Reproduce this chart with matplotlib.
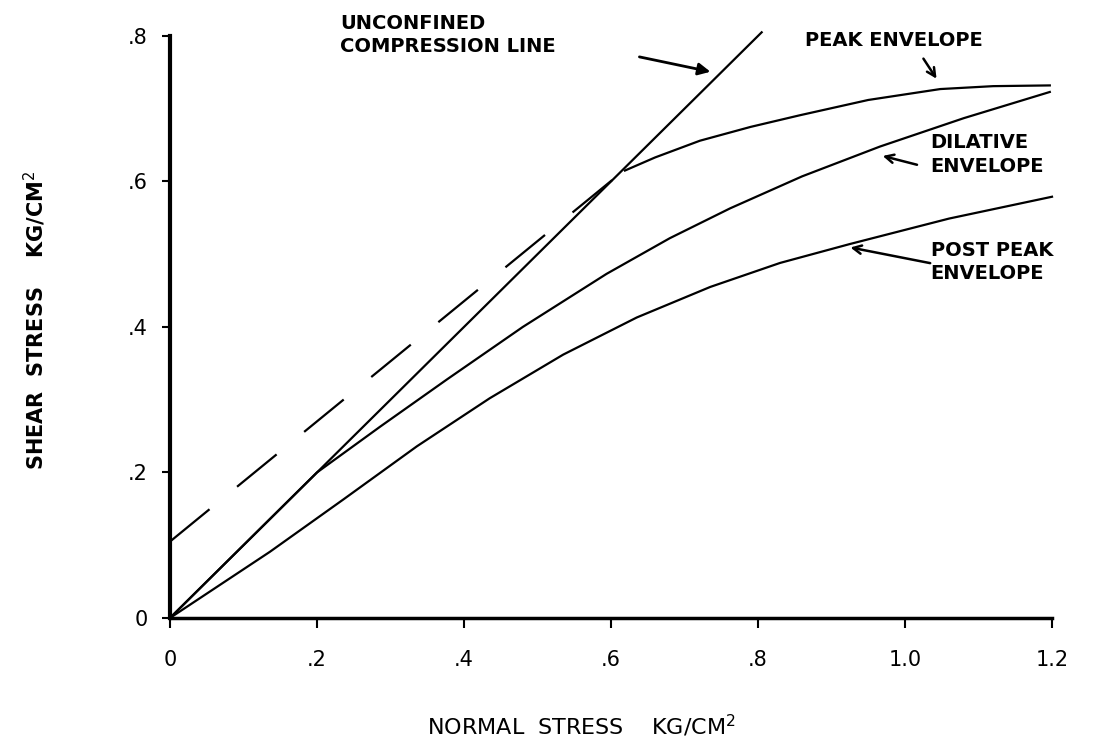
import matplotlib
matplotlib.use('Agg')
import matplotlib.pyplot as plt

# values (kg/cm^2)
unconf_x = [0.0, 0.805]
unconf_y = [0.0, 0.805]

dashed_x = [0.0, 0.615]
dashed_y = [0.105, 0.613]

peak_x = [0.619, 0.66, 0.721, 0.79, 0.857, 0.95, 1.048, 1.12, 1.197]
peak_y = [0.615, 0.633, 0.656, 0.675, 0.691, 0.712, 0.727, 0.731, 0.732]

dil_x = [0.0, 0.2, 0.286, 0.377, 0.48, 0.594, 0.68, 0.762, 0.86, 0.966, 1.08, 1.197]
dil_y = [0.0, 0.2, 0.263, 0.328, 0.40, 0.473, 0.522, 0.563, 0.607, 0.648, 0.687, 0.723]

post_x = [0.0, 0.136, 0.236, 0.336, 0.435, 0.535, 0.635, 0.735, 0.83, 0.925, 1.06, 1.2]
post_y = [0.0, 0.091, 0.163, 0.236, 0.302, 0.362, 0.413, 0.455, 0.488, 0.514, 0.549, 0.579]

xticks = [0, 0.2, 0.4, 0.6, 0.8, 1.0, 1.2]
xticklabels = ['0', '.2', '.4', '.6', '.8', '1.0', '1.2']
yticks = [0, 0.2, 0.4, 0.6, 0.8]
yticklabels = ['0', '.2', '.4', '.6', '.8']

plt.rcParams['font.family'] = ['DejaVu Sans']

fig = plt.figure(figsize=(11.13, 7.52), dpi=100)
ax = fig.add_axes([0.1527, 0.1782, 0.7925, 0.774])

lw = 1.6
ax.plot(unconf_x, unconf_y, color='black', lw=lw, clip_on=False)
ax.plot(dashed_x, dashed_y, color='black', lw=lw, dashes=(23, 16), clip_on=False)
ax.plot(peak_x, peak_y, color='black', lw=lw, clip_on=False)
ax.plot(dil_x, dil_y, color='black', lw=lw, clip_on=False)
ax.plot(post_x, post_y, color='black', lw=lw, clip_on=False)

ax.set_xlim(0, 1.2)
ax.set_ylim(0, 0.8)
ax.spines['top'].set_visible(False)
ax.spines['right'].set_visible(False)
ax.spines['left'].set_linewidth(3)
ax.spines['bottom'].set_linewidth(2.5)

ax.set_xticks(xticks)
ax.set_xticklabels(xticklabels)
ax.set_yticks(yticks)
ax.set_yticklabels(yticklabels)
ax.tick_params(axis='x', length=7, width=1.5, pad=16, labelsize=15)
ax.tick_params(axis='y', length=6, width=1.5, pad=10, labelsize=15)

# labels and arrows
txt = dict(fontsize=14, fontweight='bold', color='black', va='center', ha='left')
ax.text(0.231, 0.801, 'UNCONFINED\nCOMPRESSION LINE', linespacing=1.3, clip_on=False, **txt)
ax.text(0.864, 0.794, 'PEAK ENVELOPE', clip_on=False, **txt)
ax.text(1.035, 0.637, 'DILATIVE\nENVELOPE', linespacing=1.3, clip_on=False, **txt)
ax.text(1.035, 0.489, 'POST PEAK\nENVELOPE', linespacing=1.3, clip_on=False, **txt)

ax.annotate('', xy=(0.739, 0.750), xytext=(0.635, 0.772),
            arrowprops=dict(arrowstyle='-|>', color='black', lw=2, mutation_scale=18),
            annotation_clip=False)
ax.annotate('', xy=(1.045, 0.738), xytext=(1.023, 0.772),
            arrowprops=dict(arrowstyle='->', color='black', lw=1.8, mutation_scale=15),
            annotation_clip=False)
ax.annotate('', xy=(0.966, 0.636), xytext=(1.020, 0.622),
            arrowprops=dict(arrowstyle='->', color='black', lw=1.8, mutation_scale=15),
            annotation_clip=False)
ax.annotate('', xy=(0.922, 0.510), xytext=(1.038, 0.487),
            arrowprops=dict(arrowstyle='->', color='black', lw=1.8, mutation_scale=15),
            annotation_clip=False)

fig.text(35 / 1113, 1 - 320 / 752, r'SHEAR  STRESS    KG/CM$^{2}$', rotation=90,
         ha='center', va='center', fontsize=15, fontweight='bold')
fig.text(581 / 1113, 1 - 726 / 752, r'NORMAL  STRESS    KG/CM$^{2}$',
         ha='center', va='center', fontsize=16)

fig.savefig('out.png', dpi=100)
